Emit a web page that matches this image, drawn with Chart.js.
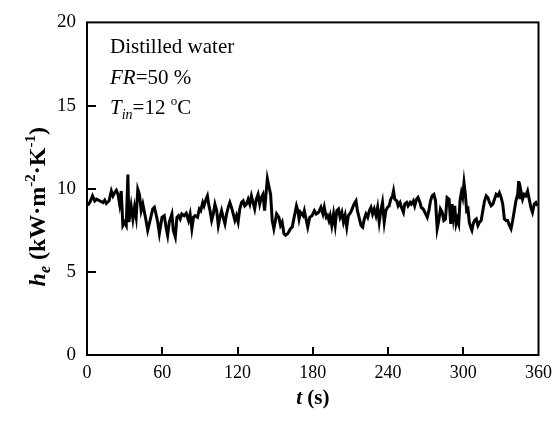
<!DOCTYPE html>
<html lang="en">
<head>
  <meta charset="UTF-8">
  <title>Heat transfer coefficient, distilled water</title>
  <script src="https://cdn.jsdelivr.net/npm/chart.js"></script>
  <style>
    body { margin: 0; background: #fff; }
    canvas { display: block; }
  </style>
</head>
<body>
  <canvas id="heChart" width="559" height="421"></canvas>

  <script>
    // time axis (s) and the measured h_e (kW·m-2·K-1) at each instant
    const timeS = [
      0.5, 2.2, 4.4, 6.2, 7.5, 10.2, 12.8, 14.1, 15.4, 17.6, 19.4, 20.7, 22.0, 23.4, 24.7, 26.0,
      27.3, 28.6, 30.0, 31.3, 32.6, 33.4, 35.2, 36.6, 37.9, 39.2, 40.5, 41.8, 43.2, 44.5, 46.6,
      48.4, 50.3, 52.4, 53.7, 55.0, 56.4, 57.7, 59.8, 61.6, 63.0, 64.3, 65.6, 67.7, 68.8, 70.4,
      71.7, 73.0, 74.3, 75.6, 77.5, 79.1, 80.9, 82.2, 83.6, 84.9, 86.2, 88.1, 89.6, 90.7, 92.3,
      93.3, 94.9, 96.0, 97.0, 98.1, 99.4, 100.7, 102.0, 103.4, 104.7, 106.0, 107.3, 108.6, 110.0,
      111.3, 112.6, 113.9, 115.2, 116.6, 117.9, 119.2, 120.5, 121.8, 123.2, 124.5, 125.8, 127.1,
      128.5, 129.8, 131.1, 132.4, 133.7, 135.0, 136.4, 137.7, 139.0, 140.3, 141.6, 143.8, 146.4,
      147.7, 149.0, 151.2, 153.0, 154.3, 155.6, 157.0, 158.3, 160.1, 162.2, 163.6, 164.9, 167.0,
      168.1, 169.1, 170.2, 172.3, 173.3, 174.9, 176.0, 177.6, 179.4, 181.3, 182.8, 184.7, 186.5,
      188.1, 189.2, 190.8, 191.8, 192.9, 193.9, 195.2, 196.6, 197.9, 199.2, 200.5, 201.8, 203.2,
      204.5, 205.8, 207.1, 208.4, 210.3, 211.9, 212.9, 214.5, 215.6, 217.2, 218.5, 219.8, 221.1,
      222.4, 223.8, 225.1, 226.4, 227.7, 229.0, 230.4, 231.7, 233.0, 234.3, 235.6, 237.0, 238.3,
      239.6, 240.9, 242.2, 243.6, 244.4, 245.4, 247.0, 248.1, 249.6, 250.7, 252.3, 253.3, 254.9,
      256.0, 257.6, 258.6, 260.2, 261.3, 262.8, 263.9, 265.5, 266.5, 268.1, 270.0, 271.3, 272.6,
      273.9, 275.2, 276.6, 277.9, 279.2, 280.5, 281.8, 283.2, 284.5, 285.8, 287.1, 288.7, 290.0,
      291.1, 292.1, 293.2, 294.3, 295.3, 296.4, 297.4, 298.5, 299.5, 300.6, 301.7, 302.7, 303.8,
      304.8, 305.9, 306.9, 308.0, 309.0, 310.4, 311.7, 313.0, 314.3, 315.6, 317.0, 318.3, 319.6,
      320.9, 322.2, 323.6, 324.9, 326.2, 327.5, 328.8, 330.2, 331.5, 332.8, 334.1, 335.4, 336.8,
      338.1, 339.4, 340.7, 342.0, 343.4, 344.2, 345.2, 346.0, 347.3, 348.6, 349.9, 351.3, 352.6,
      353.9, 355.2, 356.6, 357.9, 359.2
    ];
    const heValues = [
      9.00, 9.17, 9.57, 9.27, 9.37, 9.27, 9.17, 9.31, 9.11, 9.27, 9.86, 9.57, 9.76, 9.90, 9.66, 9.07,
      9.86, 7.79, 7.99, 7.79, 10.85, 7.99, 8.97, 8.18, 8.88, 8.28, 9.96, 9.66, 8.68, 9.07, 8.28,
      7.50, 8.09, 8.78, 8.88, 8.48, 7.99, 7.30, 8.28, 8.38, 7.69, 7.20, 7.99, 8.48, 7.50, 7.10,
      8.28, 8.38, 8.18, 8.48, 8.38, 8.52, 8.09, 8.48, 7.59, 8.28, 8.38, 8.28, 8.78, 8.68, 9.17,
      8.97, 9.37, 9.57, 9.07, 8.68, 8.09, 8.48, 9.07, 8.68, 7.79, 8.28, 8.68, 8.28, 7.89,
      8.48, 8.88, 9.17, 8.88, 8.48, 8.09, 8.38, 7.99, 8.78, 9.17, 9.27, 8.97, 9.07,
      9.37, 9.07, 9.57, 9.17, 8.78, 9.37, 9.66, 9.07, 9.47, 9.66, 8.68, 10.60, 9.66,
      8.09, 7.59, 8.48, 8.28, 7.79, 7.99, 7.30, 7.20, 7.30, 7.59, 7.69, 8.18, 8.97,
      8.68, 8.18, 8.58, 8.38, 8.68, 8.09, 7.69, 8.28, 8.38, 8.68, 8.48, 8.58, 8.88,
      8.48, 8.88, 8.28, 8.38, 8.09, 8.38, 7.79, 8.48, 7.79, 8.68, 8.78, 8.28, 8.58,
      7.99, 8.38, 7.69, 8.38, 8.58, 8.88, 9.07, 9.27, 8.68, 8.18, 7.79, 7.69, 8.18,
      8.48, 8.28, 8.68, 8.88, 8.48, 8.78, 8.38, 8.88, 7.99, 8.68, 9.17, 7.99, 8.68,
      8.88, 8.97, 9.37, 9.57, 9.86, 9.37, 9.27, 8.97, 9.17, 8.88, 8.58, 9.07, 9.17,
      8.97, 9.17, 9.07, 9.27, 8.97, 9.37, 9.47, 9.17, 8.88, 8.78, 8.48, 8.28, 8.68,
      9.27, 9.57, 9.66, 9.27, 7.59, 8.09, 8.78, 8.58, 8.09, 8.18, 9.47, 9.37, 7.89,
      9.07, 8.28, 8.97, 7.89, 8.18, 7.89, 9.27, 9.76, 9.47, 10.36, 9.66, 8.68, 8.78,
      7.99, 7.69, 7.50, 7.89, 8.09, 8.18, 7.79, 7.99, 8.09, 8.68, 9.27, 9.57, 9.47,
      9.17, 8.97, 9.07, 9.37, 9.66, 9.57, 9.76, 9.47, 9.07, 8.18, 8.09, 8.09, 7.79,
      7.59, 8.09, 8.68, 9.27, 9.66, 10.45, 9.37, 9.86, 9.37, 9.66, 9.57, 9.86, 9.37,
      8.88, 8.58, 9.07, 9.17, 8.97
    ];

    const xTicks = [0, 60, 120, 180, 240, 300, 360];
    const yTicks = [0, 5, 10, 15, 20];

    const SERIF = '"Liberation Serif", "Times New Roman", serif';

    // draw a run of text pieces, each with its own style, size and vertical shift
    function richText(ctx, x, y, parts, align) {
      const font = p => `${p.style || ''} ${p.size}px ${SERIF}`;
      let total = 0;
      parts.forEach(p => { ctx.font = font(p); total += ctx.measureText(p.text).width; });
      let cx = align === 'center' ? x - total / 2 : x;
      ctx.textAlign = 'left';
      ctx.textBaseline = 'alphabetic';
      parts.forEach(p => {
        ctx.font = font(p);
        ctx.fillText(p.text, cx, y + (p.dy || 0));
        cx += ctx.measureText(p.text).width;
      });
    }

    const framePlugin = {
      id: 'frame',
      afterDatasetsDraw(chart) {
        const ctx = chart.ctx;
        const { left, right, top, bottom } = chart.chartArea;
        const xs = chart.scales.x, ys = chart.scales.y;
        ctx.save();
        ctx.strokeStyle = '#000';
        ctx.lineWidth = 2;
        ctx.strokeRect(left, top, right - left, bottom - top);

        // inward tick marks
        ctx.beginPath();
        xTicks.slice(1, -1).forEach(v => {
          const px = Math.round(xs.getPixelForValue(v));
          ctx.moveTo(px, bottom);
          ctx.lineTo(px, bottom - 8);
        });
        yTicks.slice(1, -1).forEach(v => {
          const py = Math.round(ys.getPixelForValue(v));
          ctx.moveTo(left, py);
          ctx.lineTo(left + 9, py);
        });
        ctx.stroke();

        ctx.fillStyle = '#000';

        // x axis title
        richText(ctx, (left + right) / 2, 404, [
          { text: 't', style: 'italic bold', size: 21 },
          { text: ' (s)', style: 'bold', size: 21 }
        ], 'center');

        // y axis title
        ctx.save();
        ctx.translate(45, (top + bottom) / 2 + 18);
        ctx.rotate(-Math.PI / 2);
        richText(ctx, 0, 0, [
          { text: 'h', style: 'italic bold', size: 24 },
          { text: 'e', style: 'italic bold', size: 16, dy: 5 },
          { text: ' (kW\u00b7m', style: 'bold', size: 24 },
          { text: '-2', style: 'bold', size: 15, dy: -10 },
          { text: '\u00b7K', style: 'bold', size: 24 },
          { text: '-1', style: 'bold', size: 15, dy: -10 },
          { text: ')', style: 'bold', size: 24 }
        ], 'center');
        ctx.restore();

        // test conditions
        richText(ctx, 110, 53, [{ text: 'Distilled water', size: 21 }]);
        richText(ctx, 110, 84, [
          { text: 'FR', style: 'italic', size: 21 },
          { text: '=50 %', size: 21 }
        ]);
        richText(ctx, 110, 114, [
          { text: 'T', style: 'italic', size: 21 },
          { text: 'in', style: 'italic', size: 14, dy: 5 },
          { text: '=12 ', size: 21 },
          { text: 'o', size: 13, dy: -9 },
          { text: 'C', size: 21 }
        ]);
        ctx.restore();
      }
    };

    new Chart(document.getElementById('heChart').getContext('2d'), {
      type: 'line',
      data: {
        datasets: [{
          data: timeS.map((t, i) => ({ x: t, y: heValues[i] })),
          borderColor: '#000',
          borderWidth: 3,
          pointRadius: 0,
          tension: 0,
          fill: false
        }]
      },
      options: {
        responsive: false,
        animation: false,
        events: [],
        layout: { padding: { top: 17, right: 18, left: 0, bottom: 0 } },
        plugins: { legend: { display: false }, tooltip: { enabled: false } },
        scales: {
          x: {
            type: 'linear',
            min: 0,
            max: 360,
            afterFit: s => { s.height = 66; },
            afterBuildTicks: s => { s.ticks = xTicks.map(v => ({ value: v })); },
            grid: { display: false, drawTicks: false },
            border: { display: false },
            ticks: { color: '#000', padding: 7, font: { family: SERIF, size: 18 } }
          },
          y: {
            min: 0,
            max: 20,
            afterFit: s => { s.width = 87; },
            afterBuildTicks: s => { s.ticks = yTicks.map(v => ({ value: v })); },
            grid: { display: false, drawTicks: false },
            border: { display: false },
            ticks: { color: '#000', padding: 11, font: { family: SERIF, size: 19 } }
          }
        }
      },
      plugins: [framePlugin]
    });
  </script>
</body>
</html>
